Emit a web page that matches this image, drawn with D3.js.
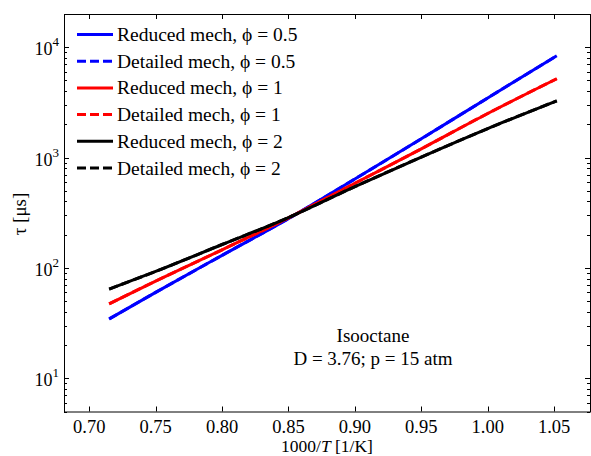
<!DOCTYPE html>
<html>
<head>
<meta charset="utf-8">
<script src="https://cdn.jsdelivr.net/npm/d3@7"></script>
<style>
  html, body { margin: 0; padding: 0; background: #fff; }
  svg text { font-family: "Liberation Serif", "Times New Roman", serif; fill: #000; }
</style>
</head>
<body>
<svg id="chart" width="591" height="456"></svg>
<script>
// Inverse temperature, 1000/T [1/K]
const invT = [0.715, 0.75, 0.80, 0.85, 0.90, 0.95, 1.00, 1.052];

// Ignition delay tau [us], reduced mechanism
const reducedPhi05 = [34.5, 60, 130, 280, 640, 1480, 3470, 8370];
const reducedPhi1  = [47.2, 76, 146, 284, 585, 1200, 2510, 5180];
const reducedPhi2  = [64.3, 93, 163, 286, 545, 1010, 1830, 3270];

// Ignition delay tau [us], detailed mechanism
const detailedPhi05 = [34.5, 60, 130, 280, 640, 1480, 3470, 8370];
const detailedPhi1  = [47.2, 76, 146, 284, 585, 1200, 2510, 5180];
const detailedPhi2  = [64.3, 93, 163, 286, 545, 1010, 1830, 3270];

const xTicks = [0.70, 0.75, 0.80, 0.85, 0.90, 0.95, 1.00, 1.05];
const yTicks = [10, 100, 1000, 10000];

const seriesList = [
  { label: "Reduced mech, \u03d5 = 0.5",  values: reducedPhi05,  color: "#0000ff", dash: null },
  { label: "Detailed mech, \u03d5 = 0.5", values: detailedPhi05, color: "#0000ff", dash: "9,4" },
  { label: "Reduced mech, \u03d5 = 1",    values: reducedPhi1,   color: "#ff0000", dash: null },
  { label: "Detailed mech, \u03d5 = 1",   values: detailedPhi1,  color: "#ff0000", dash: "9,4" },
  { label: "Reduced mech, \u03d5 = 2",    values: reducedPhi2,   color: "#000000", dash: null },
  { label: "Detailed mech, \u03d5 = 2",   values: detailedPhi2,  color: "#000000", dash: "9,4" }
];

const svg = d3.select("#chart");
const plotL = 64, plotR = 590, plotT = 14, plotB = 411.5;

const x = d3.scaleLinear().domain([0.681, 1.077]).range([plotL, plotR]);
const y = d3.scaleLog().domain([5, 20000]).range([plotB, plotT]);

const fontSize = 19;

// Curves
const line = d3.line()
  .x((d, i) => x(invT[i]))
  .y(d => y(d))
  .curve(d3.curveMonotoneX);

const plot = svg.append("g");
seriesList.forEach(s => {
  plot.append("path")
    .datum(s.values)
    .attr("d", line)
    .attr("fill", "none")
    .attr("stroke", s.color)
    .attr("stroke-width", 3)
    .attr("stroke-dasharray", s.dash);
});

// Frame
svg.append("rect")
  .attr("x", plotL + 0.5).attr("y", plotT + 0.5)
  .attr("width", plotR - plotL).attr("height", plotB - plotT)
  .attr("fill", "none").attr("stroke", "#000").attr("stroke-width", 1);

// X axis ticks (inward, mirrored on top)
const gx = svg.append("g");
xTicks.forEach(t => {
  const px = Math.round(x(t)) + 0.5;
  gx.append("line").attr("x1", px).attr("x2", px).attr("y1", plotB).attr("y2", plotB - 5).attr("stroke", "#000");
  gx.append("line").attr("x1", px).attr("x2", px).attr("y1", plotT).attr("y2", plotT + 5).attr("stroke", "#000");
  gx.append("text")
    .attr("x", x(t)).attr("y", 433)
    .attr("text-anchor", "middle")
    .style("font-size", "18.5px")
    .text(d3.format(".2f")(t));
});

// Y axis ticks: major decades and log minor ticks
const gy = svg.append("g");
const minor = [];
for (let e = 0; e <= 4; e++) {
  for (let m = 2; m <= 9; m++) {
    const v = m * Math.pow(10, e);
    if (v >= 5 && v <= 20000) minor.push(v);
  }
}
minor.forEach(v => {
  const py = Math.round(y(v)) + 0.5;
  gy.append("line").attr("x1", plotL).attr("x2", plotL + 3).attr("y1", py).attr("y2", py).attr("stroke", "#000");
  gy.append("line").attr("x1", plotR).attr("x2", plotR - 3).attr("y1", py).attr("y2", py).attr("stroke", "#000");
});
yTicks.forEach(v => {
  const py = Math.round(y(v)) + 0.5;
  gy.append("line").attr("x1", plotL).attr("x2", plotL + 5).attr("y1", py).attr("y2", py).attr("stroke", "#000");
  gy.append("line").attr("x1", plotR).attr("x2", plotR - 5).attr("y1", py).attr("y2", py).attr("stroke", "#000");
  const t = gy.append("text")
    .attr("x", 59).attr("y", y(v) + 8)
    .attr("text-anchor", "end")
    .style("font-size", "18px");
  t.append("tspan").text("10");
  t.append("tspan")
    .attr("dy", -9)
    .style("font-size", "13px")
    .text(Math.round(Math.log10(v)));
});

// Axis titles
const xt = svg.append("text")
  .attr("x", (plotL + plotR) / 2).attr("y", 451.5)
  .attr("text-anchor", "middle")
  .style("font-size", "17.5px");
xt.append("tspan").text("1000/");
xt.append("tspan").style("font-style", "italic").text("T");
xt.append("tspan").text(" [1/K]");

svg.append("text")
  .attr("transform", "translate(26,214) rotate(-90)")
  .attr("text-anchor", "middle")
  .style("font-size", fontSize + "px")
  .text("\u03c4 [\u03bcs]");

// Legend
const legend = svg.append("g");
seriesList.forEach((s, i) => {
  const ly = 34.5 + i * 26.7;
  legend.append("line")
    .attr("x1", 77).attr("x2", 113)
    .attr("y1", ly).attr("y2", ly)
    .attr("stroke", s.color).attr("stroke-width", 3)
    .attr("stroke-dasharray", s.dash);
  legend.append("text")
    .attr("x", 117).attr("y", ly + 6.5)
    .style("font-size", "19.5px")
    .text(s.label);
});

// Annotation
svg.append("text")
  .attr("x", 373).attr("y", 341.5)
  .attr("text-anchor", "middle")
  .style("font-size", fontSize + "px")
  .text("Isooctane");
svg.append("text")
  .attr("x", 373).attr("y", 365)
  .attr("text-anchor", "middle")
  .style("font-size", fontSize + "px")
  .text("D = 3.76; p = 15 atm");
</script>
</body>
</html>
